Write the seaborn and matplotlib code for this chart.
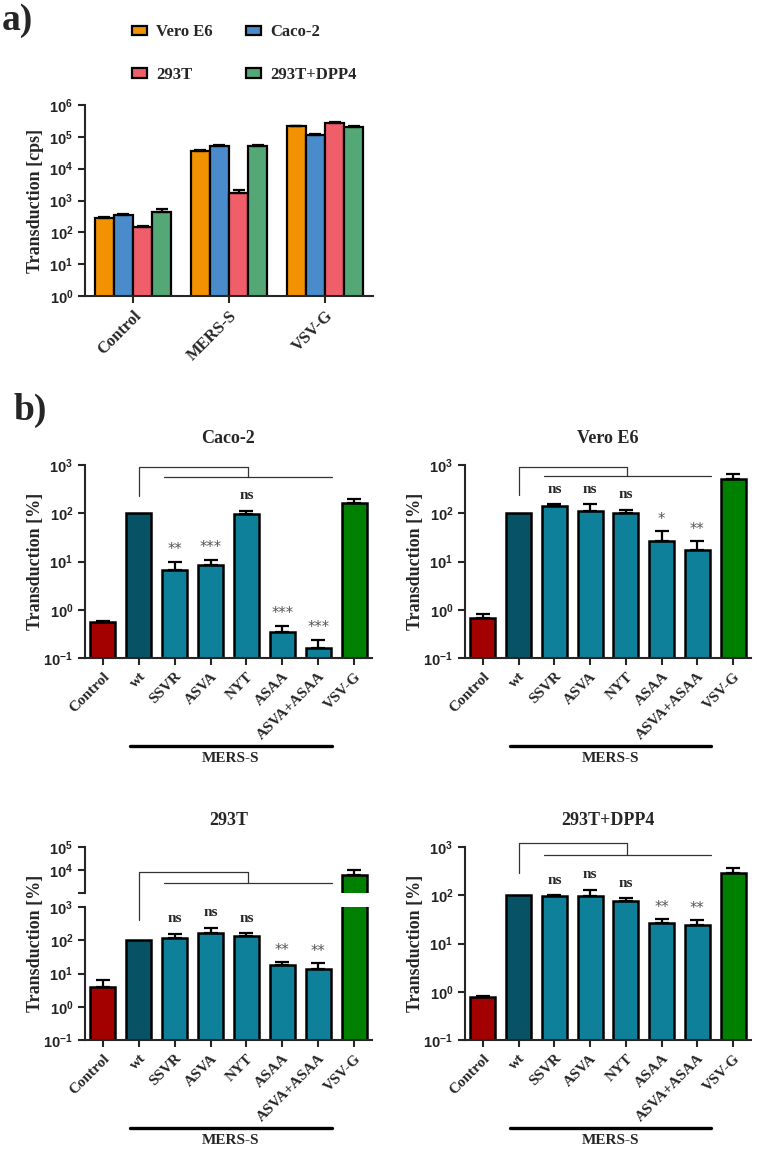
import numpy as np
import pandas as pd
import matplotlib
matplotlib.use('Agg')
import matplotlib.pyplot as plt
import matplotlib.transforms as mtransforms
from matplotlib.ticker import NullLocator, FuncFormatter
import seaborn as sns

# ---------------- panel a data ----------------
groups_a = ['Control', 'MERS-S', 'VSV-G']
cells_a = ['Vero E6', 'Caco-2', '293T', '293T+DPP4']
vero_a = [277, 37000, 213000]
caco_a = [345, 53000, 118000]
t293_a = [145, 1750, 275000]
dpp4_a = [450, 50000, 200000]
vero_a_err = [20, 2500, 12000]
caco_a_err = [25, 4000, 8000]
t293_a_err = [10, 450, 25000]
dpp4_a_err = [90, 4000, 12000]
colors_a = ['#F39200', '#4A8BCB', '#F05F69', '#54A875']

# ---------------- panel b data ----------------
constructs = ['Control', 'wt', 'SSVR', 'ASVA', 'NYT', 'ASAA', 'ASVA+ASAA', 'VSV-G']
colors_b = ['#A30000', '#085266', '#0F8099', '#0F8099', '#0F8099', '#0F8099', '#0F8099', '#008000']

caco_b = [0.55, 100, 6.7, 8.6, 98, 0.35, 0.16, 167]
caco_b_err = [0.04, 0, 3.3, 2.4, 15, 0.12, 0.08, 28]
caco_b_sig = ['', '', '**', '***', 'ns', '***', '***', '']

vero_b = [0.69, 100, 142, 112, 102, 27, 17.5, 505]
vero_b_err = [0.12, 0, 13, 43, 16, 16, 8.5, 135]
vero_b_sig = ['', '', 'ns', 'ns', 'ns', '*', '**', '']

t293_b = [4.0, 100, 117, 170, 135, 18.2, 14, 6000]
t293_b_err = [2.3, 0, 41, 70, 31, 3.8, 6, 4000]
t293_b_sig = ['', '', 'ns', 'ns', 'ns', '**', '**', '']

dpp4_b = [0.77, 100, 98, 98, 76, 26, 24.5, 290]
dpp4_b_err = [0.06, 0, 2, 33, 11, 5.5, 5.5, 70]
dpp4_b_sig = ['', '', 'ns', 'ns', 'ns', '**', '**', '']

sns.set_style('ticks')
plt.rcParams['font.family'] = ['Liberation Serif', 'DejaVu Serif']
plt.rcParams['font.weight'] = 'bold'
plt.rcParams['mathtext.fontset'] = 'custom'
plt.rcParams['mathtext.rm'] = 'Liberation Sans'
plt.rcParams['mathtext.it'] = 'Liberation Sans:italic'
plt.rcParams['mathtext.bf'] = 'Liberation Sans:bold'
plt.rcParams['mathtext.default'] = 'rm'
plt.rcParams['axes.linewidth'] = 1.5

W, H = 757, 1150
fig = plt.figure(figsize=(W / 100, H / 100), dpi=100)

pow10 = FuncFormatter(lambda v, pos: r'$10^{%d}$' % int(round(np.log10(v))) if v > 0 else '')


def px_axes(x0, y0, x1, y1):
    # rectangle given in pixels from the top-left corner
    return fig.add_axes([x0 / W, 1 - y1 / H, (x1 - x0) / W, (y1 - y0) / H])


def style_axis(ax, tick_size=10.5):
    sns.despine(ax=ax)
    ax.tick_params(axis='both', direction='out', length=5, width=1.5, labelsize=tick_size)
    ax.tick_params(axis='y', labelcolor='#222222')
    ax.yaxis.set_minor_locator(NullLocator())
    ax.yaxis.set_major_formatter(pow10)
    ax.set_facecolor('none')


def add_errors(ax, vals, errs):
    for p in ax.patches:
        xc = p.get_x() + p.get_width() / 2
        i = int(round(xc))
        if errs[i] <= 0:
            continue
        ax.errorbar(xc, vals[i], yerr=[[0], [errs[i]]], fmt='none', ecolor='black',
                    elinewidth=1.6, capsize=5, capthick=1.6, zorder=4)


# ---------------- panel a ----------------
ax_a = px_axes(85, 105, 373, 296)
df_a = pd.DataFrame({
    'group': groups_a * 4,
    'cell': sum([[c] * 3 for c in cells_a], []),
    'value': vero_a + caco_a + t293_a + dpp4_a,
})
ax_a.set_yscale('log')
sns.barplot(data=df_a, x='group', y='value', hue='cell', hue_order=cells_a, palette=colors_a,
            saturation=1, width=0.8, edgecolor='black', linewidth=1.6, errorbar=None, ax=ax_a)
errs_a = [vero_a_err, caco_a_err, t293_a_err, dpp4_a_err]
vals_a = [vero_a, caco_a, t293_a, dpp4_a]
for cont, vals, errs in zip(ax_a.containers, vals_a, errs_a):
    for i, bar in enumerate(cont):
        xc = bar.get_x() + bar.get_width() / 2
        ax_a.errorbar(xc, vals[i], yerr=[[0], [errs[i]]], fmt='none', ecolor='black',
                      elinewidth=1.6, capsize=4, capthick=1.6, zorder=4)
handles, labels = ax_a.get_legend_handles_labels()
ax_a.legend_.remove()
order = [0, 2, 1, 3]
fig.legend([handles[k] for k in order], [labels[k] for k in order], ncol=2,
           loc='upper left', bbox_to_anchor=(124 / W, 1 - 16 / H), frameon=False,
           prop={'family': 'Liberation Serif', 'weight': 'bold', 'size': 12},
           handlelength=0.85, handleheight=0.5, handletextpad=0.6, columnspacing=2.0,
           labelspacing=1.6, borderpad=0)
ax_a.set_ylim(1, 1e6)
ax_a.set_xlim(-0.5, 2.5)
style_axis(ax_a)
ax_a.set_xlabel('')
ax_a.set_ylabel('Transduction [cps]', fontsize=13, fontweight='bold')
ax_a.yaxis.set_label_coords(-0.143, 0.5)
ax_a.set_xticks(range(3))
ax_a.set_xticklabels(groups_a, rotation=45, ha='right', rotation_mode='anchor',
                     fontsize=12, fontweight='bold')

fig.text(2 / W, 1 - 21 / H, 'a)', fontsize=27, fontweight='bold', va='center', ha='left')
fig.text(13 / W, 1 - 410 / H, 'b)', fontsize=27, fontweight='bold', va='center', ha='left')


# ---------------- panel b ----------------
def draw_bars(ax, vals, errs):
    df = pd.DataFrame({'construct': constructs, 'value': vals})
    ax.set_yscale('log')
    sns.barplot(data=df, x='construct', y='value', hue='construct', palette=colors_b,
                saturation=1, legend=False, width=0.7, edgecolor='black', linewidth=1.8,
                errorbar=None, ax=ax)
    add_errors(ax, vals, errs)
    ax.set_xlim(-0.5, 7.5)


def draw_sig(ax, vals, errs, sig):
    for i, s in enumerate(sig):
        if not s:
            continue
        if s == 'ns':
            ax.annotate(s, (i, vals[i] + errs[i]), xytext=(0, 6), textcoords='offset points',
                        ha='center', va='bottom', fontsize=11, fontweight='bold')
        else:
            ax.annotate(s, (i, vals[i] + errs[i]), xytext=(0, 3), textcoords='offset points',
                        ha='center', va='bottom', fontsize=10.5, fontweight='normal',
                        family='DejaVu Sans', color='#555555')


def draw_bracket(ax, y_wt, y_top, y_line):
    tr = ax.get_xaxis_transform()
    ax.plot([1, 1, 4.04, 4.04], [y_wt, y_top, y_top, y_line], color='#333333', lw=0.9,
            transform=tr, clip_on=False)
    ax.plot([1.7, 6.38], [y_line, y_line], color='#333333', lw=0.9, transform=tr, clip_on=False)


def finish_b(ax, title=None):
    style_axis(ax)
    ax.set_xlabel('')
    ax.set_ylabel('Transduction [%]', fontsize=13, fontweight='bold')
    ax.set_xticks(range(8))
    ax.set_xticklabels(constructs, rotation=45, ha='right', rotation_mode='anchor',
                       fontsize=11, fontweight='bold')
    tr = mtransforms.offset_copy(ax.get_xaxis_transform(), fig=fig, y=-88, units='dots')
    ax.plot([0.76, 6.38], [0, 0], color='black', lw=2.4, transform=tr, clip_on=False)
    tr2 = mtransforms.offset_copy(ax.get_xaxis_transform(), fig=fig, y=-100, units='dots')
    ax.text(3.57, 0, 'MERS-S', transform=tr2, ha='center', va='center', fontsize=11,
            fontweight='bold')
    if title:
        ax.set_title(title, fontsize=13, fontweight='bold', pad=16)


# Caco-2
ax1 = px_axes(85, 465, 372, 658)
draw_bars(ax1, caco_b, caco_b_err)
ax1.set_ylim(0.1, 1000)
draw_sig(ax1, caco_b, caco_b_err, caco_b_sig)
draw_bracket(ax1, 0.84, 0.99, 0.938)
finish_b(ax1, 'Caco-2')
ax1.yaxis.set_label_coords(-0.143, 0.5)

# Vero E6
ax2 = px_axes(465, 465, 751, 658)
draw_bars(ax2, vero_b, vero_b_err)
ax2.set_ylim(0.1, 1000)
draw_sig(ax2, vero_b, vero_b_err, vero_b_sig)
draw_bracket(ax2, 0.845, 0.99, 0.943)
finish_b(ax2, 'Vero E6')
ax2.yaxis.set_label_coords(-0.143, 0.5)

# 293T with broken axis
ax3 = px_axes(85, 907, 372, 1040)
draw_bars(ax3, t293_b, t293_b_err)
ax3.set_ylim(0.1, 1000)
draw_sig(ax3, t293_b, t293_b_err, t293_b_sig)
draw_bracket(ax3, 0.902, 1.26, 1.178)
finish_b(ax3)
ax3.yaxis.set_label_coords(-0.143, 0.73)

ax3u = px_axes(85, 847, 372, 893)
draw_bars(ax3u, t293_b, t293_b_err)
ax3u.set_ylim(1000, 1e5)
style_axis(ax3u)
ax3u.spines['bottom'].set_visible(False)
ax3u.tick_params(axis='x', bottom=False, labelbottom=False)
ax3u.set_xlabel('')
ax3u.set_ylabel('')
ax3u.set_yticks([1e3, 1e4, 1e5])
ax3u.set_yticklabels(['', r'$10^{4}$', r'$10^{5}$'])
ax3u.set_title('293T', fontsize=13, fontweight='bold', pad=16)

# 293T+DPP4
ax4 = px_axes(465, 847, 751, 1040)
draw_bars(ax4, dpp4_b, dpp4_b_err)
ax4.set_ylim(0.1, 1000)
draw_sig(ax4, dpp4_b, dpp4_b_err, dpp4_b_sig)
draw_bracket(ax4, 0.864, 1.019, 0.959)
finish_b(ax4, '293T+DPP4')
ax4.yaxis.set_label_coords(-0.143, 0.5)

fig.savefig('out.png', dpi=100, facecolor='white')
